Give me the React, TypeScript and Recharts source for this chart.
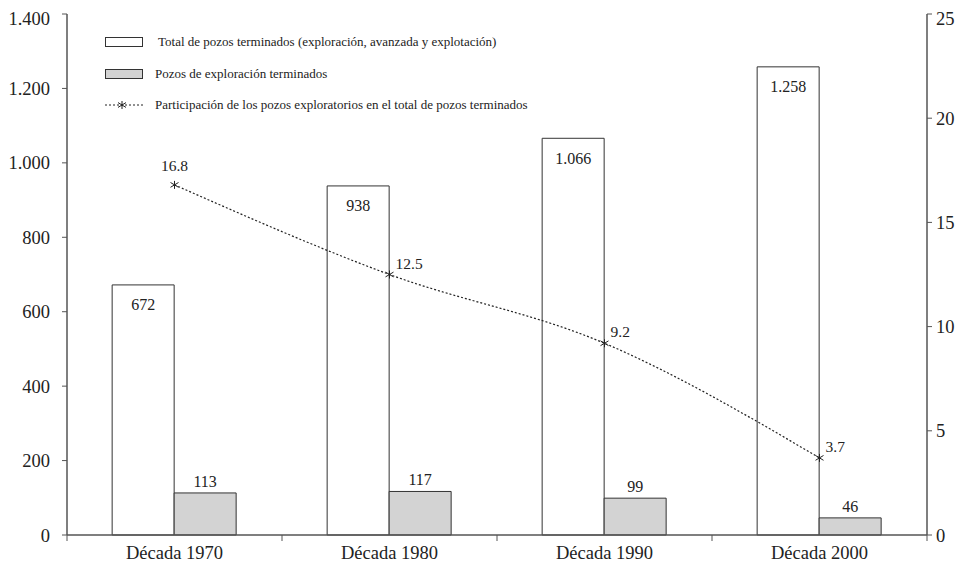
import {
  ComposedChart,
  Bar,
  Line,
  XAxis,
  YAxis,
  LabelList,
} from "recharts";

const decades = ["Década 1970", "Década 1980", "Década 1990", "Década 2000"];
const totalWells = [672, 938, 1066, 1258];
const explorationWells = [113, 117, 99, 46];
const explorationShare = [16.8, 12.5, 9.2, 3.7];
const leftTicks = [0, 200, 400, 600, 800, 1000, 1200, 1400];
const rightTicks = [0, 5, 10, 15, 20, 25];

const data = decades.map((decade, i) => ({
  decade,
  total: totalWells[i],
  exploration: explorationWells[i],
  share: explorationShare[i],
}));

const FONT = "Liberation Serif";
const AXIS = "#555";
const INK = "#333";
const TICK_SIZE = 6;
const TICK_MARGIN = 3;
const TICK_FONT = 18.5;

// 1258 -> "1.258"
const fmt = (v: number) => String(v).replace(/\B(?=(\d{3})+(?!\d))/g, ".");

function Asterisk({ cx, cy }: any) {
  if (cx == null || cy == null) return null;
  const r = 4;
  return (
    <g stroke="#222" strokeWidth={1}>
      <line x1={cx} y1={cy - r} x2={cx} y2={cy + r} />
      <line x1={cx - r} y1={cy - r * 0.6} x2={cx + r} y2={cy + r * 0.6} />
      <line x1={cx - r} y1={cy + r * 0.6} x2={cx + r} y2={cy - r * 0.6} />
    </g>
  );
}

// decade label, with tick marks on the band edges instead of the band centre
function DecadeTick({ x, y, payload, index }: any) {
  const half = payload?.offset ?? 0;
  const top = y - TICK_MARGIN - TICK_SIZE;
  const edges = [x - half];
  if (index === decades.length - 1) edges.push(x + half);
  return (
    <g>
      {edges.map((ex, i) => (
        <line key={i} x1={ex} y1={top} x2={ex} y2={top + TICK_SIZE} stroke={AXIS} />
      ))}
      <text
        x={x}
        y={y}
        dy="0.8em"
        textAnchor="middle"
        fontSize={TICK_FONT}
        fill="#222"
        fontFamily={FONT}
      >
        {payload.value}
      </text>
    </g>
  );
}

function ShareLabel({ x, y, value, index }: any) {
  const first = index === 0;
  return (
    <text
      x={first ? x : x + 6}
      y={first ? y - 14 : y - 6}
      textAnchor={first ? "middle" : "start"}
      fontSize={15.5}
      fill="#222"
      fontFamily={FONT}
    >
      {value}
    </text>
  );
}

function LegendRow({ top, children }: { top: number; children: any }) {
  return (
    <div
      style={{
        position: "absolute",
        left: 97,
        top,
        height: 16,
        display: "flex",
        alignItems: "center",
        whiteSpace: "nowrap",
      }}
    >
      {children}
    </div>
  );
}

function LegendBox() {
  const text = { fontSize: 13, fontFamily: FONT, color: "#222" };
  return (
    <>
      <LegendRow top={26}>
        <svg width={38} height={11}>
          <rect x={0.5} y={0.5} width={37} height={9} fill="#fff" stroke={INK} />
        </svg>
        <span style={{ ...text, marginLeft: 15 }}>
          Total de pozos terminados (exploración, avanzada y explotación)
        </span>
      </LegendRow>
      <LegendRow top={58}>
        <svg width={38} height={11}>
          <rect x={0.5} y={0.5} width={37} height={9} fill="#d3d3d3" stroke={INK} />
        </svg>
        <span style={{ ...text, marginLeft: 12 }}>Pozos de exploración terminados</span>
      </LegendRow>
      <LegendRow top={89}>
        <svg width={40} height={12}>
          <line x1={0} y1={6} x2={40} y2={6} stroke="#222" strokeDasharray="2 2" />
          <Asterisk cx={17} cy={6} />
        </svg>
        <span style={{ ...text, marginLeft: 10 }}>
          Participación de los pozos exploratorios en el total de pozos terminados
        </span>
      </LegendRow>
    </>
  );
}

const tickStyle = { fontSize: TICK_FONT, fill: "#222", fontFamily: FONT };
const barLabelStyle = { fontSize: 16, fill: "#222", fontFamily: FONT };

export default function App() {
  return (
    <div style={{ position: "relative", width: 948, height: 556, fontFamily: FONT }}>
      <ComposedChart
        width={948}
        height={556}
        data={data}
        margin={{ top: 6, right: 0, bottom: 0, left: 0 }}
        barCategoryGap="21%"
        barGap={0}
        style={{ fontFamily: FONT }}
      >
        <XAxis
          dataKey="decade"
          height={29}
          tickLine={false}
          axisLine={{ stroke: AXIS, strokeWidth: 1.5 }}
          tick={<DecadeTick />}
          tickSize={TICK_SIZE}
          tickMargin={TICK_MARGIN}
          interval={0}
        />
        <YAxis
          yAxisId="left"
          width={59}
          domain={[0, 1400]}
          ticks={leftTicks}
          tickFormatter={fmt}
          axisLine={{ stroke: AXIS, strokeWidth: 1.5 }}
          tickLine={{ stroke: AXIS }}
          tickSize={5}
          tickMargin={12}
          tick={tickStyle}
        />
        <YAxis
          yAxisId="right"
          orientation="right"
          width={29}
          domain={[0, 25]}
          ticks={rightTicks}
          axisLine={{ stroke: AXIS, strokeWidth: 1.5 }}
          tickLine={{ stroke: AXIS }}
          tickSize={5}
          tickMargin={4}
          tick={tickStyle}
        />
        <Bar
          yAxisId="left"
          dataKey="total"
          fill="#fff"
          stroke={INK}
          strokeWidth={1}
          isAnimationActive={false}
        >
          <LabelList
            dataKey="total"
            position="insideTop"
            offset={14}
            formatter={(v: any) => fmt(v)}
            style={barLabelStyle}
          />
        </Bar>
        <Bar
          yAxisId="left"
          dataKey="exploration"
          fill="#d3d3d3"
          stroke={INK}
          strokeWidth={1}
          isAnimationActive={false}
        >
          <LabelList dataKey="exploration" position="top" offset={6} style={barLabelStyle} />
        </Bar>
        <Line
          yAxisId="right"
          type="monotone"
          dataKey="share"
          stroke="#222"
          strokeWidth={1.2}
          strokeDasharray="2 2"
          dot={<Asterisk />}
          activeDot={false}
          isAnimationActive={false}
        >
          <LabelList dataKey="share" content={<ShareLabel />} />
        </Line>
      </ComposedChart>
      <LegendBox />
    </div>
  );
}
